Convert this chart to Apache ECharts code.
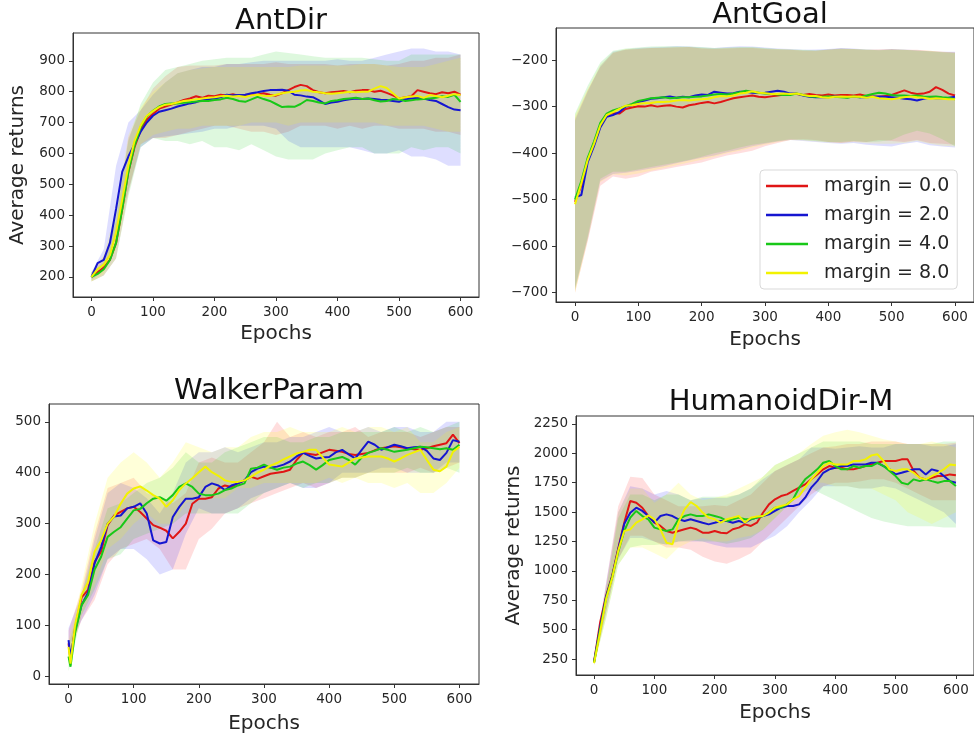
<!DOCTYPE html>
<html>
<head>
<meta charset="utf-8">
<script src="https://cdn.jsdelivr.net/npm/echarts@6/dist/echarts.min.js"></script>
<style>html,body{margin:0;padding:0;background:#fff;}#c{width:974px;height:742px;}</style>
</head>
<body>
<div id="c"></div>
<script>
// ---------- data ----------
const SERIES_NAMES = ['margin = 0.0', 'margin = 2.0', 'margin = 4.0', 'margin = 8.0'];
const PANEL_TITLES = ['AntDir', 'AntGoal', 'WalkerParam', 'HumanoidDir-M'];
const X_TICKS = [0, 100, 200, 300, 400, 500, 600];
const Y_TICKS_ANTDIR = [200, 300, 400, 500, 600, 700, 800, 900];
const Y_TICKS_ANTGOAL = [-700, -600, -500, -400, -300, -200];
const Y_TICKS_WALKER = [0, 100, 200, 300, 400, 500];
const Y_TICKS_HUMANOID = [250, 500, 750, 1000, 1250, 1500, 1750, 2000, 2250];

const EPOCHS = [0,10,20,30,40,50,60,70,80,90,100,110,120,130,140,150,160,170,180,190,200,210,220,230,240,250,260,270,280,290,300,310,320,330,340,350,360,370,380,390,400,410,420,430,440,450,460,470,480,490,500,510,520,530,540,550,560,570,580,590,600];
const WALKER_EPOCHS = [0,3,10,20,30,40,50,60,70,80,90,100,110,120,130,140,150,160,170,180,190,200,210,220,230,240,250,260,270,280,290,300,310,320,330,340,350,360,370,380,390,400,410,420,430,440,450,460,470,480,490,500,510,520,530,540,550,560,570,580,590,600];
const BAND_EPOCHS = [0,20,40,60,80,100,120,140,160,180,200,220,240,260,280,300,320,340,360,380,400,420,440,460,480,500,520,540,560,580,600];

// AntDir mean returns
const antdir_m0 = [200,215,230,255,310,420,540,620,675,710,728,745,752,758,765,773,778,785,780,787,785,790,788,792,786,789,792,790,795,790,787,795,805,815,822,818,805,798,795,798,800,802,798,803,805,805,800,803,796,788,778,782,785,805,800,795,792,798,795,800,790];
const antdir_m2 = [200,245,255,310,420,540,590,630,670,700,722,735,740,745,752,757,762,766,772,775,778,782,790,788,789,790,795,798,802,805,805,806,803,790,788,784,782,772,760,765,767,772,775,778,776,778,776,774,773,770,767,775,778,780,778,773,770,760,750,742,740];
const antdir_m4 = [200,210,225,255,310,420,540,625,685,720,738,752,760,762,762,764,766,768,770,770,773,775,780,776,770,767,775,783,776,770,760,750,752,751,760,773,770,765,762,770,772,776,778,780,776,778,772,768,770,776,775,770,772,775,776,778,780,785,783,790,767];
const antdir_m8 = [200,225,240,270,345,450,560,640,690,722,737,750,758,760,765,770,772,775,778,780,782,785,787,784,786,783,788,790,787,786,790,795,798,800,804,805,800,798,795,793,795,797,800,798,800,800,810,818,812,795,778,782,784,786,780,789,786,782,787,792,789];
// AntDir bands (lower / upper)
const antdir_lo0 = [185,205,260,470,630,650,650,660,670,680,690,690,680,670,670,660,670,690,690,690,680,690,680,690,690,680,680,680,670,670,660];
const antdir_hi0 = [215,265,380,650,740,810,850,880,885,885,885,890,890,890,890,895,890,890,890,890,885,890,890,890,885,890,900,900,910,910,920];
const antdir_lo2 = [190,220,330,480,620,650,655,660,665,670,680,680,690,690,690,680,640,620,620,620,620,620,610,600,600,610,590,590,580,560,560];
const antdir_hi2 = [215,290,560,700,740,790,830,860,870,880,880,890,890,895,900,900,900,900,900,900,905,900,900,910,920,930,940,940,930,930,920];
const antdir_lo4 = [185,205,260,460,620,650,640,640,630,640,620,620,610,630,610,590,580,580,580,600,610,620,620,600,600,600,620,610,620,620,600];
const antdir_hi4 = [215,250,400,640,760,830,870,880,890,900,905,910,910,910,920,930,925,920,915,910,910,910,910,905,900,900,920,920,920,920,920];
const antdir_lo8 = [185,210,290,480,630,660,670,680,680,690,690,690,690,700,700,700,690,700,700,700,700,700,700,700,690,690,690,690,680,670,670];
const antdir_hi8 = [215,270,420,660,750,800,830,860,870,875,880,880,880,880,880,880,880,885,885,885,885,885,890,890,885,880,880,880,890,900,910];

// AntGoal mean returns
const antgoal_m0 = [-505,-470,-415,-380,-340,-318,-314,-315,-305,-302,-299,-300,-297,-300,-298,-297,-300,-302,-297,-295,-292,-290,-293,-290,-286,-282,-280,-278,-276,-279,-280,-278,-276,-274,-273,-273,-275,-273,-275,-276,-274,-276,-275,-275,-276,-274,-277,-278,-279,-277,-275,-270,-265,-270,-273,-272,-268,-258,-264,-272,-276];
const antgoal_m2 = [-495,-490,-420,-385,-345,-322,-318,-312,-300,-297,-290,-287,-283,-282,-280,-278,-281,-279,-280,-276,-274,-275,-268,-270,-272,-271,-268,-268,-270,-271,-270,-268,-266,-268,-272,-272,-276,-279,-280,-280,-280,-278,-279,-280,-279,-280,-280,-279,-278,-279,-280,-281,-283,-284,-287,-283,-281,-282,-282,-281,-279];
const antgoal_m4 = [-500,-460,-410,-375,-335,-315,-308,-304,-299,-294,-288,-285,-282,-281,-280,-282,-281,-280,-280,-279,-278,-276,-274,-273,-274,-272,-269,-266,-268,-270,-272,-273,-274,-275,-275,-272,-275,-278,-279,-279,-278,-279,-280,-281,-278,-280,-276,-273,-270,-272,-275,-276,-276,-277,-276,-278,-279,-278,-280,-281,-284];
const antgoal_m8 = [-510,-465,-415,-380,-340,-318,-312,-305,-298,-297,-294,-293,-292,-290,-290,-289,-287,-286,-287,-285,-284,-283,-280,-277,-278,-276,-272,-270,-267,-270,-271,-273,-273,-272,-273,-272,-275,-277,-277,-280,-281,-279,-278,-279,-278,-279,-281,-279,-282,-283,-284,-282,-280,-278,-280,-281,-283,-282,-283,-284,-284];
const antgoal_lo0 = [-700,-590,-470,-450,-455,-450,-440,-435,-430,-425,-420,-412,-405,-400,-395,-385,-378,-372,-370,-372,-376,-378,-375,-376,-372,-374,-376,-372,-378,-380,-382];
const antgoal_hi0 = [-325,-265,-215,-185,-178,-176,-174,-174,-173,-172,-175,-176,-175,-174,-174,-176,-177,-178,-180,-180,-177,-175,-176,-178,-177,-176,-178,-178,-180,-182,-183];
const antgoal_lo2 = [-690,-585,-460,-445,-442,-438,-433,-428,-422,-416,-410,-405,-398,-392,-385,-380,-375,-372,-374,-376,-378,-380,-378,-382,-384,-386,-380,-376,-383,-386,-388];
const antgoal_hi2 = [-330,-268,-212,-182,-177,-174,-173,-172,-170,-171,-173,-174,-172,-170,-171,-173,-175,-176,-178,-177,-176,-174,-175,-177,-178,-176,-177,-179,-181,-182,-182];
const antgoal_lo4 = [-695,-580,-455,-440,-440,-435,-430,-425,-420,-415,-408,-400,-395,-388,-382,-378,-374,-370,-372,-374,-376,-376,-374,-376,-375,-372,-360,-352,-358,-370,-385];
const antgoal_hi4 = [-315,-255,-205,-180,-175,-173,-171,-170,-170,-171,-172,-174,-173,-172,-172,-174,-176,-177,-178,-179,-177,-175,-176,-177,-179,-177,-178,-180,-181,-183,-184];
const antgoal_lo8 = [-700,-588,-462,-446,-448,-444,-438,-432,-426,-420,-414,-408,-400,-395,-388,-382,-376,-372,-373,-375,-377,-378,-376,-379,-380,-380,-378,-374,-380,-384,-386];
const antgoal_hi8 = [-318,-262,-210,-183,-176,-175,-174,-173,-172,-172,-174,-175,-174,-173,-173,-175,-176,-177,-179,-180,-178,-176,-176,-178,-178,-177,-178,-179,-180,-182,-184];

// WalkerParam mean returns (WALKER_EPOCHS)
const walker_m0 = [65,32,95,155,170,225,245,297,316,323,330,333,323,310,297,292,286,271,284,300,339,349,349,352,369,375,372,379,385,392,388,393,398,400,402,406,425,439,437,435,440,445,443,441,437,435,437,439,444,448,450,452,450,448,446,445,448,452,455,458,475,458];
const walker_m2 = [71,38,90,140,165,222,254,300,314,316,330,333,340,320,267,261,264,313,333,349,349,352,372,379,375,366,375,379,385,401,408,412,410,412,416,422,432,439,433,428,430,431,440,445,436,428,445,461,455,445,450,455,452,448,450,451,443,428,425,439,464,461];
const walker_m4 = [39,19,85,140,160,210,235,274,284,293,310,326,329,340,349,352,345,356,372,379,372,359,356,356,359,366,369,375,379,408,410,416,410,406,410,412,418,422,415,406,415,425,428,431,425,416,430,439,443,448,445,441,443,445,448,451,450,448,446,448,445,455];
const walker_m8 = [58,25,100,160,185,245,267,300,314,339,359,369,373,365,356,349,333,346,366,379,389,401,412,401,394,385,382,382,385,392,400,406,414,419,426,432,438,441,445,445,430,416,414,412,420,428,430,432,432,432,428,422,428,435,440,445,425,406,403,412,441,451];
const walker_lo0 = [40,110,150,220,250,260,270,250,210,210,270,290,320,330,340,350,360,370,380,370,380,390,390,400,400,400,400,410,400,410,420];
const walker_hi0 = [90,170,280,370,380,390,360,350,340,360,420,430,420,420,440,460,500,470,480,470,480,480,490,470,480,480,480,470,480,490,490];
const walker_lo2 = [55,110,160,230,250,250,230,200,210,280,330,320,320,330,350,360,370,380,370,370,380,400,400,400,410,410,400,400,400,420,420];
const walker_hi2 = [95,160,270,360,380,370,350,320,360,420,440,440,450,440,450,460,460,470,470,480,490,480,480,490,480,490,490,480,480,500,500];
const walker_lo4 = [10,120,170,230,240,270,280,290,300,320,320,320,320,320,340,360,370,380,370,380,380,390,390,400,400,400,410,400,400,410,400];
const walker_hi4 = [60,160,250,330,340,360,380,390,410,440,420,420,440,450,460,470,470,460,460,470,470,480,480,480,480,490,480,490,480,490,500];
const walker_lo8 = [20,120,180,250,270,300,320,300,300,340,350,350,350,370,370,380,380,380,380,380,390,380,390,380,380,370,380,360,360,380,410];
const walker_hi8 = [70,180,300,390,420,440,420,390,420,460,450,440,450,450,470,480,480,490,480,480,480,490,480,490,490,480,490,460,460,480,490];

// HumanoidDir-M mean returns
const humanoid_m0 = [230,560,790,960,1190,1410,1595,1580,1537,1467,1410,1382,1340,1325,1340,1354,1368,1354,1325,1325,1340,1325,1320,1354,1368,1396,1382,1410,1495,1566,1609,1637,1651,1680,1708,1736,1779,1821,1864,1892,1878,1878,1864,1864,1878,1892,1906,1920,1935,1935,1935,1949,1949,1850,1793,1779,1793,1807,1807,1821,1814];
const humanoid_m2 = [225,520,780,950,1180,1400,1495,1538,1510,1467,1410,1467,1481,1467,1439,1425,1439,1425,1410,1396,1410,1425,1425,1410,1425,1410,1439,1453,1467,1481,1510,1538,1552,1552,1566,1623,1708,1764,1835,1864,1878,1892,1892,1906,1906,1906,1920,1920,1892,1864,1821,1835,1850,1864,1864,1821,1864,1850,1807,1764,1750];
const humanoid_m4 = [220,500,770,945,1160,1340,1453,1510,1467,1439,1368,1353,1340,1353,1439,1467,1481,1467,1467,1481,1467,1453,1425,1439,1453,1439,1439,1453,1467,1496,1538,1538,1566,1609,1708,1779,1821,1864,1920,1935,1892,1864,1864,1892,1878,1892,1892,1920,1892,1850,1807,1750,1736,1779,1764,1779,1764,1750,1764,1764,1722];
const humanoid_m8 = [215,480,760,940,1170,1340,1353,1410,1439,1473,1439,1353,1240,1226,1410,1524,1586,1552,1496,1453,1439,1410,1439,1453,1467,1410,1453,1462,1467,1496,1538,1552,1566,1609,1637,1708,1779,1835,1892,1920,1906,1906,1906,1935,1935,1949,1983,1992,1935,1864,1850,1864,1864,1835,1793,1779,1807,1835,1864,1906,1898];
const humanoid_lo0 = [200,650,1100,1300,1300,1250,1200,1200,1180,1120,1080,1060,1100,1150,1250,1350,1450,1550,1650,1720,1750,1750,1760,1780,1780,1750,1700,1650,1600,1600,1600];
const humanoid_hi0 = [250,900,1550,1800,1790,1650,1600,1550,1550,1550,1560,1550,1600,1650,1750,1850,1900,1950,2000,2050,2060,2080,2080,2100,2100,2100,2080,2080,2080,2080,2090];
const humanoid_lo2 = [200,650,1100,1280,1280,1250,1220,1250,1250,1250,1220,1200,1200,1200,1250,1300,1380,1500,1600,1720,1720,1720,1700,1700,1720,1700,1650,1600,1550,1500,1400];
const humanoid_hi2 = [250,900,1500,1720,1700,1650,1680,1650,1600,1620,1620,1620,1650,1700,1780,1850,1900,1950,2050,2050,2040,2050,2060,2050,2050,2080,2080,2080,2060,2060,2080];
const humanoid_lo4 = [200,600,1050,1200,1220,1220,1230,1250,1260,1250,1250,1230,1250,1280,1350,1450,1550,1650,1700,1650,1600,1550,1500,1450,1420,1400,1380,1380,1380,1370,1370];
const humanoid_hi4 = [250,850,1450,1650,1650,1600,1650,1650,1600,1630,1630,1630,1650,1700,1800,1900,1950,2000,2050,2100,2100,2100,2100,2080,2080,2080,2080,2080,2080,2100,2100];
const humanoid_lo8 = [200,600,1050,1200,1200,1150,1100,1200,1250,1280,1250,1250,1280,1300,1350,1450,1550,1650,1750,1750,1720,1720,1700,1700,1650,1600,1500,1450,1400,1450,1500];
const humanoid_hi8 = [250,850,1500,1700,1700,1580,1650,1750,1650,1600,1620,1650,1700,1750,1800,1900,1950,2000,2080,2150,2180,2200,2180,2150,2120,2100,2080,2080,2100,2080,2050];

// ---------- styling / layout ----------
const LINE_COLORS = ['#e01515', '#1515d0', '#18c818', '#f2f200'];
const BAND_COLORS = ['rgba(255,0,0,0.13)', 'rgba(0,0,255,0.13)', 'rgba(0,200,0,0.13)', 'rgba(255,255,0,0.15)'];
const FONT = 'DejaVu Sans';
const TXT = '#262626';

const panels = [
  { grid: {left: 73, top: 33, width: 406, height: 264}, yMin: 135, yMax: 990, yTicks: Y_TICKS_ANTDIR,
    titleX: 276, titleY: 2, yName: 'Average returns', yNameGap: 45, xNameGap: 27, epochs: EPOCHS,
    means: [antdir_m0, antdir_m2, antdir_m4, antdir_m8],
    lows: [antdir_lo0, antdir_lo2, antdir_lo4, antdir_lo8], highs: [antdir_hi0, antdir_hi2, antdir_hi4, antdir_hi8] },
  { grid: {left: 556, top: 28, width: 419, height: 274}, yMin: -720, yMax: -131, yTicks: Y_TICKS_ANTGOAL,
    titleX: 765, titleY: -4, yName: '', yNameGap: 0, xNameGap: 28, epochs: EPOCHS,
    means: [antgoal_m0, antgoal_m2, antgoal_m4, antgoal_m8],
    lows: [antgoal_lo0, antgoal_lo2, antgoal_lo4, antgoal_lo8], highs: [antgoal_hi0, antgoal_hi2, antgoal_hi4, antgoal_hi8] },
  { grid: {left: 49, top: 404, width: 430, height: 280}, yMin: -15, yMax: 535, yTicks: Y_TICKS_WALKER,
    titleX: 264, titleY: 372, yName: '', yNameGap: 0, xNameGap: 30, epochs: WALKER_EPOCHS,
    means: [walker_m0, walker_m2, walker_m4, walker_m8],
    lows: [walker_lo0, walker_lo2, walker_lo4, walker_lo8], highs: [walker_hi0, walker_hi2, walker_hi4, walker_hi8] },
  { grid: {left: 576, top: 416, width: 399, height: 259}, yMin: 114, yMax: 2318, yTicks: Y_TICKS_HUMANOID,
    titleX: 776, titleY: 383, yName: 'Average returns', yNameGap: 52, xNameGap: 28, epochs: EPOCHS,
    means: [humanoid_m0, humanoid_m2, humanoid_m4, humanoid_m8],
    lows: [humanoid_lo0, humanoid_lo2, humanoid_lo4, humanoid_lo8], highs: [humanoid_hi0, humanoid_hi2, humanoid_hi4, humanoid_hi8] }
];

const fmtTick = v => (v < 0 ? '\u2212' + Math.abs(v) : String(v));

const option = {
  animation: false,
  backgroundColor: '#ffffff',
  textStyle: {fontFamily: FONT},
  title: panels.map((p, i) => ({
    text: PANEL_TITLES[i], left: p.titleX, top: p.titleY, textAlign: 'center',
    textStyle: {fontSize: 29, fontWeight: 'normal', color: '#111', fontFamily: FONT}
  })),
  legend: {
    data: SERIES_NAMES, orient: 'vertical', left: 760, top: 170,
    padding: [6, 8, 6, 6], itemGap: 9, itemWidth: 42, itemHeight: 2.5, icon: 'rect',
    borderColor: '#d9d9d9', borderWidth: 1, borderRadius: 4, backgroundColor: 'rgba(255,255,255,0.85)',
    textStyle: {fontSize: 19, lineHeight: 20, color: TXT, fontFamily: FONT, padding: [0, 0, 0, 11]}
  },
  grid: panels.map(p => Object.assign({show: true, borderColor: '#333', borderWidth: 1, backgroundColor: 'transparent'}, p.grid)),
  xAxis: panels.map((p, i) => ({
    type: 'value', gridIndex: i, min: -30, max: 630,
    name: 'Epochs', nameLocation: 'middle', nameGap: p.xNameGap,
    nameTextStyle: {fontSize: 20, color: TXT, fontFamily: FONT},
    axisLine: {show: true, onZero: false, lineStyle: {color: '#333', width: 1}},
    axisTick: {show: true, length: 4, customValues: X_TICKS, lineStyle: {color: '#333'}},
    axisLabel: {customValues: X_TICKS, margin: 8, fontSize: 13.5, color: TXT, fontFamily: FONT},
    splitLine: {show: false}
  })),
  yAxis: panels.map((p, i) => ({
    type: 'value', gridIndex: i, min: p.yMin, max: p.yMax,
    name: p.yName, nameLocation: 'middle', nameGap: p.yNameGap,
    nameTextStyle: {fontSize: 20, color: TXT, fontFamily: FONT},
    axisLine: {show: true, onZero: false, lineStyle: {color: '#333', width: 1}},
    axisTick: {show: true, length: 4, customValues: p.yTicks, lineStyle: {color: '#333'}},
    axisLabel: {customValues: p.yTicks, margin: 8, fontSize: 13.5, color: TXT, fontFamily: FONT, formatter: fmtTick},
    splitLine: {show: false}
  })),
  series: []
};

panels.forEach((p, gi) => {
  // shaded bands: one polygon per series, mapped through the axes with api.coord
  for (let k = 0; k < 4; k++) {
    const bandData = BAND_EPOCHS.map((e, j) => [e, p.lows[k][j], p.highs[k][j]]);
    option.series.push({
      type: 'custom', name: 'band_' + gi + '_' + k, xAxisIndex: gi, yAxisIndex: gi,
      silent: true, z: 1, clip: true,
      encode: {x: 0, y: [1, 2]},
      data: bandData,
      renderItem: function (params, api) {
        if (params.dataIndex !== 0) return null;
        const upper = bandData.map(d => api.coord([d[0], d[2]]));
        const lower = bandData.map(d => api.coord([d[0], d[1]])).reverse();
        return {
          type: 'polygon',
          shape: {points: upper.concat(lower)},
          style: {fill: BAND_COLORS[k], stroke: null}
        };
      }
    });
  }
  // mean lines
  for (let k = 0; k < 4; k++) {
    option.series.push({
      type: 'line', name: SERIES_NAMES[k], xAxisIndex: gi, yAxisIndex: gi,
      symbol: 'none', showSymbol: false, z: 3 + k,
      lineStyle: {color: LINE_COLORS[k], width: 2},
      itemStyle: {color: LINE_COLORS[k]},
      data: p.epochs.map((e, j) => [e, p.means[k][j]])
    });
  }
});

const chart = echarts.init(document.getElementById('c'), null, {renderer: 'canvas'});
chart.setOption(option);
</script>
</body>
</html>
